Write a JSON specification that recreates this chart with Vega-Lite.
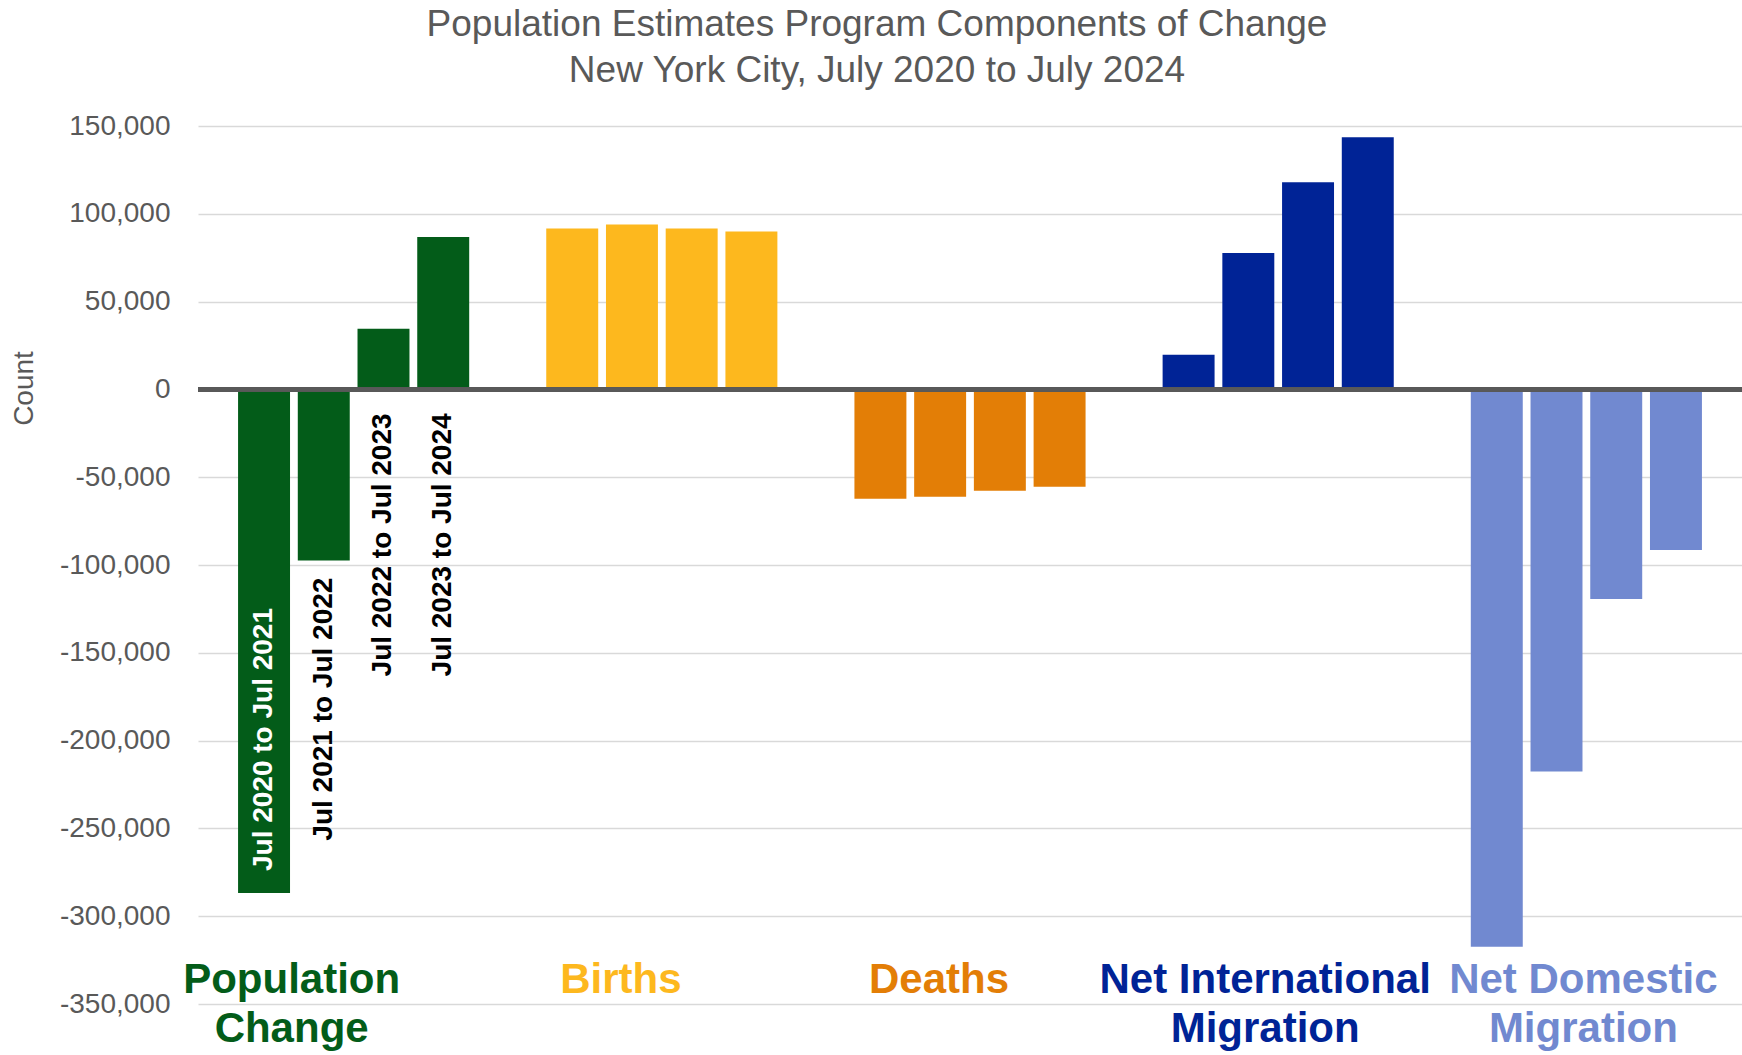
{
  "$schema": "https://vega.github.io/schema/vega-lite/v6.json",
  "width": 1544,
  "height": 878,
  "autosize": {"type": "none"},
  "padding": {"left": 198, "top": 126, "right": 0, "bottom": 51},
  "background": "white",
  "config": {"view": {"stroke": null}, "font": "Liberation Sans"},
  "title": {
    "text": ["Population Estimates Program Components of Change", "New York City, July 2020 to July 2024"],
    "fontSize": 37,
    "fontWeight": "normal",
    "color": "#595959",
    "lineHeight": 46,
    "anchor": "middle",
    "frame": "group",
    "dx": -93,
    "offset": -15,
    "baseline": "bottom"
  },
  "data": {
    "values": [
      {"component": "Population Change", "period": "Jul 2020 to Jul 2021", "value": -286800},
      {"component": "Population Change", "period": "Jul 2021 to Jul 2022", "value": -97500},
      {"component": "Population Change", "period": "Jul 2022 to Jul 2023", "value": 34500},
      {"component": "Population Change", "period": "Jul 2023 to Jul 2024", "value": 86800},
      {"component": "Births", "period": "Jul 2020 to Jul 2021", "value": 91600},
      {"component": "Births", "period": "Jul 2021 to Jul 2022", "value": 93900},
      {"component": "Births", "period": "Jul 2022 to Jul 2023", "value": 91600},
      {"component": "Births", "period": "Jul 2023 to Jul 2024", "value": 89900},
      {"component": "Deaths", "period": "Jul 2020 to Jul 2021", "value": -62300},
      {"component": "Deaths", "period": "Jul 2021 to Jul 2022", "value": -61100},
      {"component": "Deaths", "period": "Jul 2022 to Jul 2023", "value": -57700},
      {"component": "Deaths", "period": "Jul 2023 to Jul 2024", "value": -55400},
      {"component": "Net International Migration", "period": "Jul 2020 to Jul 2021", "value": 19700},
      {"component": "Net International Migration", "period": "Jul 2021 to Jul 2022", "value": 77700},
      {"component": "Net International Migration", "period": "Jul 2022 to Jul 2023", "value": 118000},
      {"component": "Net International Migration", "period": "Jul 2023 to Jul 2024", "value": 143600},
      {"component": "Net Domestic Migration", "period": "Jul 2020 to Jul 2021", "value": -317400},
      {"component": "Net Domestic Migration", "period": "Jul 2021 to Jul 2022", "value": -217600},
      {"component": "Net Domestic Migration", "period": "Jul 2022 to Jul 2023", "value": -119400},
      {"component": "Net Domestic Migration", "period": "Jul 2023 to Jul 2024", "value": -91500}
    ]
  },
  "layer": [
    {
      "mark": {"type": "bar"},
      "encoding": {
        "x": {
          "field": "component",
          "type": "nominal",
          "scale": {
            "domain": ["Population Change", "Births", "Deaths", "Net International Migration", "Net Domestic Migration"],
            "paddingInner": 0.25,
            "paddingOuter": 0.13
          },
          "axis": {
            "title": null,
            "orient": "bottom",
            "domain": false,
            "ticks": false,
            "tickSize": 0,
            "grid": false,
            "labelAngle": 0,
            "labelFontSize": 42,
            "labelFontWeight": "bold",
            "labelBaseline": "top",
            "labelLineHeight": 49,
            "labelPadding": -45,
            "labelLimit": 0,
            "labelOverlap": false,
            "labelExpr": "datum.label == 'Population Change' ? ['Population', 'Change'] : datum.label == 'Net International Migration' ? ['Net International', 'Migration'] : datum.label == 'Net Domestic Migration' ? ['Net Domestic', 'Migration'] : datum.label",
            "labelOffset": {
              "condition": [
                {"test": "datum.value == 'Population Change'", "value": -62},
                {"test": "datum.value == 'Births'", "value": -41},
                {"test": "datum.value == 'Deaths'", "value": -31},
                {"test": "datum.value == 'Net International Migration'", "value": -13}
              ],
              "value": -3
            },
            "labelColor": {
              "condition": [
                {"test": "datum.value == 'Population Change'", "value": "#035C19"},
                {"test": "datum.value == 'Births'", "value": "#FDB81E"},
                {"test": "datum.value == 'Deaths'", "value": "#E37E06"},
                {"test": "datum.value == 'Net International Migration'", "value": "#002396"}
              ],
              "value": "#7189D0"
            }
          }
        },
        "xOffset": {
          "field": "period",
          "type": "nominal",
          "scale": {
            "domain": ["Jul 2020 to Jul 2021", "Jul 2021 to Jul 2022", "Jul 2022 to Jul 2023", "Jul 2023 to Jul 2024"],
            "paddingInner": 0.13,
            "paddingOuter": 0
          }
        },
        "y": {
          "field": "value",
          "type": "quantitative",
          "scale": {"domain": [-350000, 150000], "nice": false, "zero": false},
          "axis": {
            "title": "Count",
            "titleFontSize": 28,
            "titleFontWeight": "normal",
            "titleColor": "#595959",
            "titleAngle": 270,
            "titleAlign": "center",
            "titleBaseline": "middle",
            "titleX": -174,
            "titleY": 262,
            "values": [-350000, -300000, -250000, -200000, -150000, -100000, -50000, 0, 50000, 100000, 150000],
            "labelExpr": "replace(format(datum.value, ','), '\u2212', '-')",
            "labelFontSize": 28,
            "labelColor": "#595959",
            "labelPadding": 28,
            "ticks": false,
            "domain": false,
            "gridColor": "#D9D9D9",
            "gridWidth": 1.5
          }
        },
        "color": {
          "field": "component",
          "type": "nominal",
          "scale": {
            "domain": ["Population Change", "Births", "Deaths", "Net International Migration", "Net Domestic Migration"],
            "range": ["#035C19", "#FDB81E", "#E37E06", "#002396", "#7189D0"]
          },
          "legend": null
        }
      }
    },
    {
      "mark": {"type": "rule", "color": "#595959", "strokeWidth": 4},
      "encoding": {"y": {"datum": 0, "type": "quantitative"}}
    },
    {
      "transform": [{"filter": "datum.component == 'Population Change' && datum.period == 'Jul 2020 to Jul 2021'"}],
      "mark": {"type": "text", "angle": 270, "align": "left", "baseline": "middle", "dx": 22, "fontSize": 28, "fontWeight": "bold", "color": "white"},
      "encoding": {
        "x": {"field": "component", "type": "nominal"},
        "xOffset": {"field": "period", "type": "nominal"},
        "y": {"field": "value", "type": "quantitative"},
        "text": {"field": "period"}
      }
    },
    {
      "transform": [{"filter": "datum.component == 'Population Change' && datum.period == 'Jul 2021 to Jul 2022'"}],
      "mark": {"type": "text", "angle": 270, "align": "right", "baseline": "middle", "dx": -17, "fontSize": 28, "fontWeight": "bold", "color": "black"},
      "encoding": {
        "x": {"field": "component", "type": "nominal"},
        "xOffset": {"field": "period", "type": "nominal"},
        "y": {"field": "value", "type": "quantitative"},
        "text": {"field": "period"}
      }
    },
    {
      "transform": [{"filter": "datum.component == 'Population Change' && (datum.period == 'Jul 2022 to Jul 2023' || datum.period == 'Jul 2023 to Jul 2024')"}],
      "mark": {"type": "text", "angle": 270, "align": "right", "baseline": "middle", "dx": -24, "fontSize": 28, "fontWeight": "bold", "color": "black"},
      "encoding": {
        "x": {"field": "component", "type": "nominal"},
        "xOffset": {"field": "period", "type": "nominal"},
        "y": {"datum": 0, "type": "quantitative"},
        "text": {"field": "period"}
      }
    }
  ]
}
